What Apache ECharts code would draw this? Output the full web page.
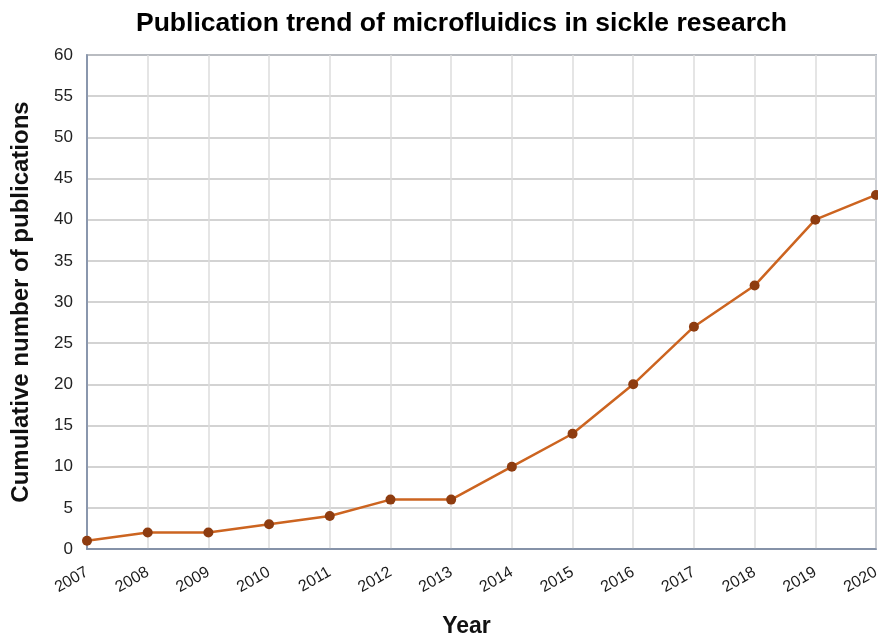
<!DOCTYPE html>
<html>
<head>
<meta charset="utf-8">
<script src="https://cdn.jsdelivr.net/npm/echarts@6/dist/echarts.min.js"></script>
<style>
html,body{margin:0;padding:0;background:#fff;}
#chart{width:878px;height:637px;}
</style>
</head>
<body>
<div id="chart"></div>
<script>
// years and cumulative counts
var years = ['2007','2008','2009','2010','2011','2012','2013','2014','2015','2016','2017','2018','2019','2020']
var publications = [1, 2, 2, 3, 4, 6, 6, 10, 14, 20, 27, 32, 40, 43]

var myChart = echarts.init(document.getElementById('chart'))
var font = 'Liberation Sans, Arial, sans-serif'
var option = {
  backgroundColor: '#fff',
  animation: false,
  title: {
    text: 'Publication trend of microfluidics in sickle research',
    left: 131,
    top: 5,
    textStyle: { fontFamily: font, fontSize: 26.5, fontWeight: 'bold', color: '#000' }
  },
  grid: {
    left: 87, right: 2, top: 55, bottom: 88,
    outerBoundsMode: 'none',
    containLabel: false,
    show: true,
    borderColor: '#7484a0',
    borderWidth: 1.5
  },
  xAxis: {
    type: 'category',
    data: years,
    boundaryGap: false,
    name: 'Year',
    nameLocation: 'middle',
    nameGap: 66,
    nameTextStyle: { fontFamily: font, fontSize: 23, fontWeight: 'bold', color: '#111', padding: [0, 30, 0, 0] },
    axisLine: { lineStyle: { color: '#7484a0', width: 1.5 } },
    axisTick: { show: false },
    axisLabel: { rotate: 30, fontFamily: font, fontSize: 16, color: '#1a1a1a', margin: 22 },
    splitLine: { show: true, lineStyle: { color: '#dcdcdc', width: 1.5 } }
  },
  yAxis: {
    type: 'value',
    min: 0, max: 60, interval: 5,
    name: 'Cumulative number of publications',
    nameLocation: 'middle',
    nameGap: 54,
    nameTextStyle: { fontFamily: font, fontSize: 24, fontWeight: 'bold', color: '#111' },
    axisLine: { show: true, lineStyle: { color: '#7484a0', width: 1.5 } },
    axisTick: { show: false },
    axisLabel: { fontFamily: font, fontSize: 17, color: '#222', margin: 14 },
    splitLine: { lineStyle: { color: '#c4c4c4', width: 1.5 } }
  },
  series: [
    {
      type: 'line',
      data: publications,
      symbol: 'circle',
      symbolSize: 10,
      lineStyle: { color: '#cc6420', width: 2.5 },
      itemStyle: { color: '#8e3c10' }
    }
  ]
}
myChart.setOption(option)
</script>
</body>
</html>
